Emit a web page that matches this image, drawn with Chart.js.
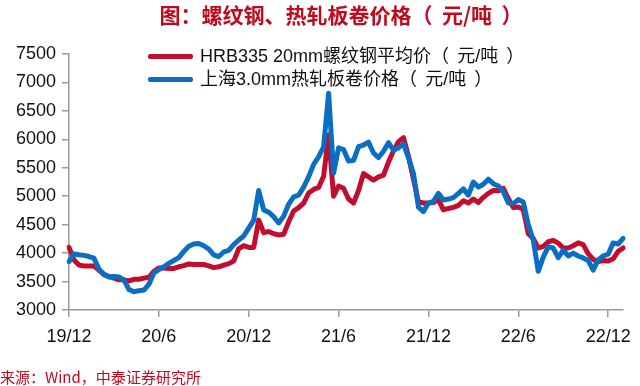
<!DOCTYPE html>
<html lang="zh-CN">
<head>
<meta charset="utf-8">
<script src="https://cdn.jsdelivr.net/npm/chart.js@4.4.1/dist/chart.umd.min.js"></script>
<style>
  html, body { margin: 0; padding: 0; background: #fff; }
  #wrap { position: relative; width: 640px; height: 386px; overflow: hidden; }
  #c { position: absolute; left: 0; top: 0; }
  #title { position: absolute; left: 341px; top: 2px; transform: translateX(-50%); white-space: nowrap;
           font: bold 21px "Noto Sans CJK SC", sans-serif; line-height: 24px; color: #C00A1E; }
  #source { position: absolute; left: 0; top: 369px; white-space: nowrap;
            font: 15px "Noto Sans CJK SC", sans-serif; line-height: 16px; color: #C00A1E; }
  .lg { position: absolute; left: 148px; height: 22px; white-space: nowrap;
        font: 18px "Liberation Sans", "Noto Sans CJK SC", sans-serif; line-height: 22px; color: #111; }
  .lg span.bar { display: inline-block; width: 45px; height: 5px; border-radius: 2px; vertical-align: middle; margin-right: 7px; position: relative; top: -1px; }
  .fw { font-family: "Noto Sans CJK SC", sans-serif; }
  .fw.open { padding-right: 0.45em; }
  .fw.close { padding-left: 0.45em; }
</style>
</head>
<body>
<div id="wrap">
  <canvas id="c" width="640" height="386"></canvas>
  <div id="title"></div>
  <div id="legend"></div>
  <div id="source"></div>
</div>
<script>
// ---- text ----
const titleText = '图：螺纹钢、热轧板卷价格（元/吨）';
const sourceText = '来源：Wind，中泰证券研究所';

// ---- data (~10-day spacing from 2019-12 to 2023-01) ----
const seriesNames = ['HRB335 20mm螺纹钢平均价（元/吨）', '上海3.0mm热轧板卷价格（元/吨）'];
const seriesColors = ['#C30D2F', '#0A6FC2'];
const tickLabels = ['19/12', '20/6', '20/12', '21/6', '21/12', '22/6', '22/12'];

const rebar = [
  4100,3880,3790,3775,3775,3775,3700,3630,3590,3560,
  3530,3530,3510,3540,3540,3560,3575,3680,3740,3740,
  3730,3730,3760,3780,3810,3800,3800,3800,3775,3745,
  3760,3790,3815,3860,4080,4130,4100,4100,4580,4360,
  4380,4340,4320,4330,4550,4740,4800,4880,5055,5120,
  5155,5350,6075,5000,5180,5140,4950,4880,5100,5400,
  5340,5285,5340,5370,5600,5800,5960,6030,5700,5300,
  4900,4880,4880,4890,4940,4760,4785,4805,4840,4920,
  4880,4950,4890,4980,5050,5100,5095,5140,4960,4800,
  4810,4770,4340,4255,4090,4120,4200,4225,4175,4090,
  4090,4130,4180,4150,3990,3890,3850,3870,3860,3900,
  4030,4090
];
const hrc = [
  3850,3985,3970,3960,3940,3910,3720,3620,3580,3590,
  3580,3530,3360,3320,3340,3350,3450,3650,3710,3760,
  3820,3870,3920,4030,4120,4160,4170,4130,4070,3970,
  3940,4020,4050,4150,4230,4300,4440,4580,5100,4760,
  4720,4640,4530,4650,4860,4990,5020,5160,5340,5560,
  5690,5870,6810,5410,5850,5820,5620,5630,5870,5900,
  5950,5760,5680,5790,5940,5810,5850,5920,5680,5400,
  4810,4730,4880,4910,5050,4935,4950,4975,5050,5130,
  5020,5250,5160,5210,5300,5220,5180,5080,4880,4870,
  4940,4900,4500,4230,3680,3930,4110,4090,3920,4050,
  3950,4000,3950,3915,3870,3700,3880,3950,3980,4180,
  4160,4260
];

// category labels: dekads (1st, 11th, 21st) from 2019-12 on
const periods = [];
{
  let y = 2019, m = 12;
  while (periods.length < rebar.length) {
    for (const d of ['01', '11', '21']) {
      if (periods.length < rebar.length) periods.push(y + '-' + String(m).padStart(2, '0') + '-' + d);
    }
    m++; if (m > 12) { m = 1; y++; }
  }
}
const TICK_EVERY = 18; // six months of dekads

// put text; full-width brackets get the spacing seen in the reference
function fillText(el, text, spaced) {
  for (const ch of text) {
    if (spaced && (ch === '（' || ch === '）')) {
      const s = document.createElement('span');
      s.className = 'fw ' + (ch === '（' ? 'open' : 'close');
      s.textContent = ch;
      el.appendChild(s);
    } else {
      el.appendChild(document.createTextNode(ch));
    }
  }
}
fillText(document.getElementById('title'), titleText, true);
fillText(document.getElementById('source'), sourceText, false);

// ---- HTML legend ----
const legendEl = document.getElementById('legend');
seriesNames.forEach((name, i) => {
  const row = document.createElement('div');
  row.className = 'lg';
  row.style.top = (43 + i * 23) + 'px';
  const bar = document.createElement('span');
  bar.className = 'bar';
  bar.style.background = seriesColors[i];
  row.appendChild(bar);
  fillText(row, name, true);
  legendEl.appendChild(row);
});

const axisGray = '#9a9a9a';
const tickFont = { family: '"Liberation Sans", Arial, sans-serif', size: 18 };

new Chart(document.getElementById('c'), {
  type: 'line',
  data: {
    labels: periods,
    datasets: [
      { label: seriesNames[0], data: rebar, borderColor: seriesColors[0], backgroundColor: seriesColors[0],
        borderWidth: 5, pointRadius: 0, tension: 0, borderJoinStyle: 'round', borderCapStyle: 'round', order: 1 },
      { label: seriesNames[1], data: hrc, borderColor: seriesColors[1], backgroundColor: seriesColors[1],
        borderWidth: 5, pointRadius: 0, tension: 0, borderJoinStyle: 'round', borderCapStyle: 'round', order: 0 }
    ]
  },
  options: {
    responsive: false,
    animation: false,
    events: [],
    layout: { padding: { top: 54, left: 0, right: 12, bottom: 36 } },
    plugins: { legend: { display: false }, title: { display: false }, tooltip: { enabled: false } },
    scales: {
      x: {
        type: 'category',
        offset: false,
        afterFit: (s) => { s.height = 40; },
        afterBuildTicks: (s) => { s.ticks = s.ticks.filter(t => t.value % TICK_EVERY === 0); },
        ticks: {
          autoSkip: false, maxRotation: 0, minRotation: 0, padding: 9, color: '#111', font: tickFont,
          callback: function (value) { return tickLabels[value / TICK_EVERY] || ''; }
        },
        grid: { drawOnChartArea: false, drawTicks: true, tickLength: 7, color: axisGray, lineWidth: 1.5 },
        border: { display: true, color: axisGray, width: 1.5 }
      },
      y: {
        min: 3000, max: 7500,
        afterFit: (s) => { s.width = 69; },
        ticks: { stepSize: 500, padding: 6, color: '#111', font: tickFont, callback: (v) => String(v) },
        grid: { drawOnChartArea: false, drawTicks: true, tickLength: 7, color: axisGray, lineWidth: 1.5 },
        border: { display: true, color: axisGray, width: 1.5 }
      }
    }
  }
});
</script>
</body>
</html>
